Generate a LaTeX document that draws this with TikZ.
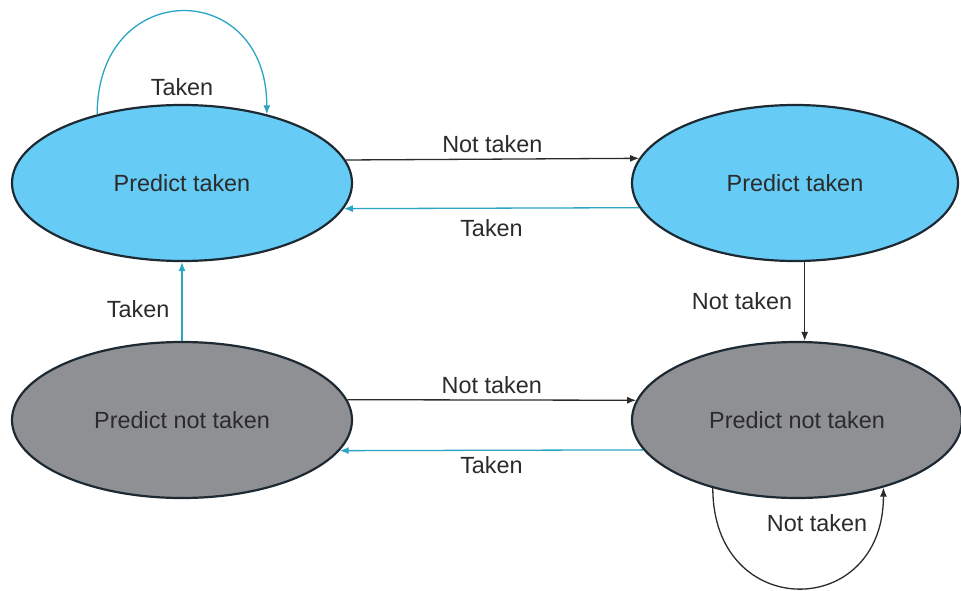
\documentclass[tikz,border=0pt]{standalone}
\usepackage{fontspec}
\setmainfont{Liberation Sans}
\usetikzlibrary{arrows.meta,positioning,shapes.geometric}
\definecolor{sky}{HTML}{66CCF5}
\definecolor{stone}{HTML}{8E9094}
\definecolor{tealline}{HTML}{2AA5C4}
\definecolor{ink}{HTML}{2B2B2B}
\definecolor{rim}{HTML}{1E2A33}
\tikzset{state/.style={ellipse,draw=rim,line width=1.1pt,minimum height=78pt,font=\fontsize{11.7}{13}\selectfont,text=ink,inner sep=0pt},
takenstate/.style={state,fill=sky},ntstate/.style={state,fill=stone},
takenarr/.style={-{Latex[length=4.5pt,width=3.5pt]},draw=tealline,line width=0.65pt},
ntarr/.style={takenarr,draw=ink},
lbl/.style={font=\fontsize{11.7}{13}\selectfont,text=ink,inner sep=3pt}}

\begin{document}
\begin{tikzpicture}[x=0.5pt,y=0.5pt]
\useasboundingbox (0,0) rectangle (961,590);
\node[takenstate,minimum width=170pt] (tl) at (182,407) {Predict taken};
\node[takenstate,minimum width=163pt] (tr) at (795,407) {Predict taken};
\node[ntstate,minimum width=170pt] (bl) at (182,170) {Predict not taken};
\node[ntstate,minimum width=165pt] (br) at (797,170) {Predict not taken};
\draw[ntarr] (tl.8) -- node[lbl,above]{Not taken} (tr.171.6);
\draw[takenarr] (tr.189.2) -- node[lbl,below=2.5pt]{Taken} (tl.351.2);
\draw[ntarr] (tr.277) -- node[lbl,left=3pt]{Not taken} (tr.277 |- br.north);
\draw[takenarr] (bl.north) -- node[lbl,left=3pt,pos=.4]{Taken} (tl.south);
\draw[ntarr] (bl.7) -- node[lbl,above]{Not taken} (br.173);
\draw[takenarr] (br.191.1) -- node[lbl,below]{Taken} (bl.349.2);
\draw[takenarr] (tl.141.6) to[out=90,in=90,looseness=2.07] (tl.39.7);
\node[lbl,above=1pt of tl.north] (tloop) {Taken};
\draw[ntarr] (br.219.7) to[out=-90,in=-90,looseness=2] (br.322.5);
\node[lbl,below=4.5pt of br.south,xshift=10pt] (bloop) {Not taken};
\end{tikzpicture}
\end{document}
